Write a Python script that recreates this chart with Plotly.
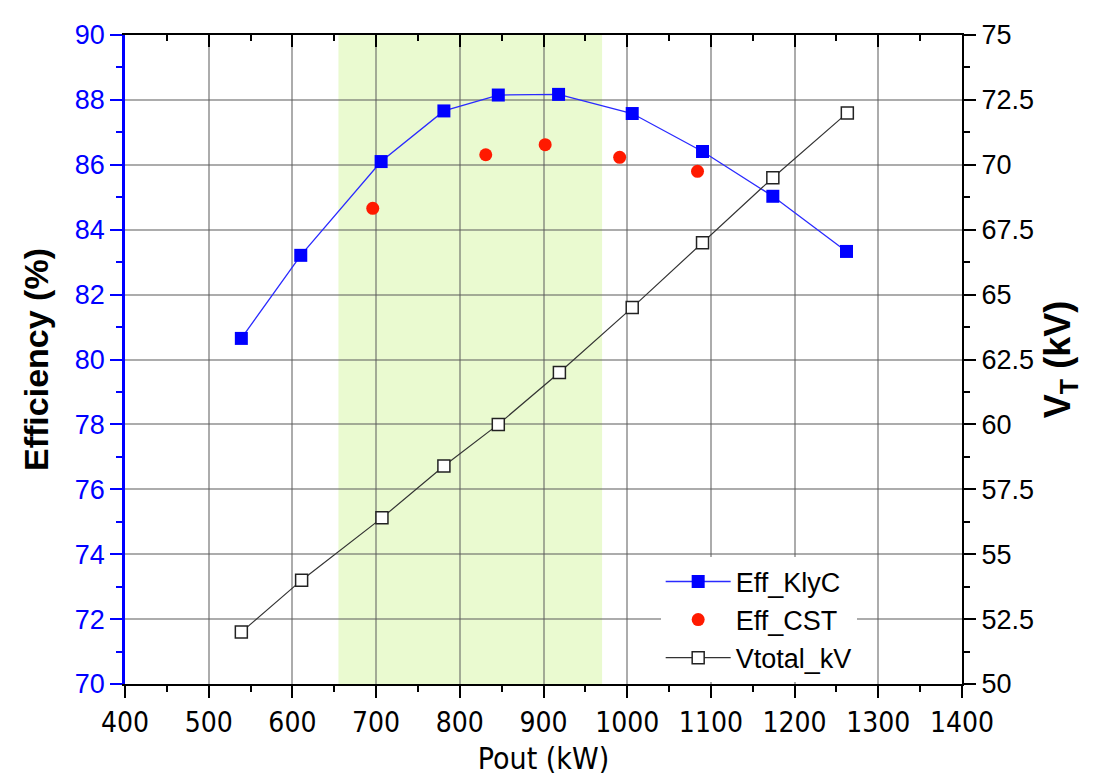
import plotly.graph_objects as go

# Data
pout_klyc = [539, 610, 706, 781, 846, 918, 1006, 1090, 1174, 1262]
eff_klyc = [80.65, 83.21, 86.10, 87.66, 88.15, 88.17, 87.58, 86.41, 85.03, 83.33]

pout_cst = [696, 831, 902, 991, 1084]
eff_cst = [84.66, 86.31, 86.62, 86.23, 85.80]

pout_v = [539, 611, 707, 781, 846, 919, 1006, 1090, 1174, 1263]
vtotal = [52.0, 54.0, 56.4, 58.4, 60.0, 62.0, 64.5, 67.0, 69.5, 72.0]

band_range = [655, 970]

FONT = "Liberation Sans, Arial, sans-serif"
NARROW = "Liberation Sans Narrow, Arial Narrow, DejaVu Sans Condensed, sans-serif"
BLUE = "#0000ff"
GRID = "rgba(90,90,90,0.5)"

fig = go.Figure()

fig.add_trace(go.Scatter(
    x=pout_klyc, y=eff_klyc, name="Eff_KlyC", mode="lines+markers",
    line=dict(color="#2a2aff", width=1.3),
    marker=dict(symbol="square", size=13, color=BLUE),
    yaxis="y"))
fig.add_trace(go.Scatter(
    x=pout_cst, y=eff_cst, name="Eff_CST", mode="markers",
    marker=dict(symbol="circle", size=13, color="#ff1a00"),
    yaxis="y"))
fig.add_trace(go.Scatter(
    x=pout_v, y=vtotal, name="Vtotal_kV", mode="lines+markers",
    line=dict(color="#333333", width=1.2),
    marker=dict(symbol="square", size=12, color="white",
                line=dict(color="#222222", width=1.5)),
    yaxis="y2"))
# dummy trace to activate the top mirror axis
fig.add_trace(go.Scatter(x=[None], y=[None], xaxis="x2", yaxis="y",
                         showlegend=False, hoverinfo="skip"))

fig.add_shape(type="rect", xref="x", yref="paper",
              x0=band_range[0], x1=band_range[1], y0=0, y1=1,
              fillcolor="#eafad0", line=dict(width=0), layer="below")

fig.update_layout(
    width=1096, height=776,
    margin=dict(l=117, r=142, t=17, b=100),
    paper_bgcolor="white", plot_bgcolor="white",
    font=dict(family=FONT, color="black"),
    xaxis=dict(
        range=[400, 1400], dtick=100, tick0=400,
        ticks="outside", ticklen=12, tickwidth=2, tickcolor="black",
        minor=dict(dtick=50, ticks="outside", ticklen=6, tickwidth=2,
                   tickcolor="black", showgrid=False),
        showline=True, linecolor="black", linewidth=2,
        showgrid=True, gridcolor=GRID, gridwidth=1.5,
        tickfont=dict(family=NARROW, size=28, color="black"),
        title=dict(text="Pout (kW)", font=dict(family=NARROW, size=30),
                   standoff=10),
        zeroline=False),
    xaxis2=dict(
        overlaying="x", side="top", range=[400, 1400], dtick=100, tick0=400,
        ticks="inside", ticklen=12, tickwidth=2, tickcolor="black",
        minor=dict(dtick=50, ticks="inside", ticklen=6, tickwidth=2,
                   tickcolor="black"),
        showline=True, linecolor="black", linewidth=2,
        showticklabels=False, showgrid=False, zeroline=False),
    yaxis=dict(
        range=[70, 90], dtick=2, tick0=70,
        ticks="outside", ticklen=12, tickwidth=2, tickcolor=BLUE,
        minor=dict(dtick=1, ticks="outside", ticklen=6, tickwidth=2,
                   tickcolor=BLUE, showgrid=False),
        showline=True, linecolor=BLUE, linewidth=2.5,
        showgrid=True, gridcolor=GRID, gridwidth=1.5,
        tickfont=dict(family=FONT, size=27, color=BLUE),
        title=dict(text="<b>Efficiency (%)</b>",
                   font=dict(family=FONT, size=34, color="black"),
                   standoff=16),
        zeroline=False),
    yaxis2=dict(
        overlaying="y", side="right", range=[50, 75], dtick=2.5, tick0=50,
        ticks="outside", ticklen=12, tickwidth=2, tickcolor="black",
        minor=dict(dtick=1.25, ticks="outside", ticklen=6, tickwidth=2,
                   tickcolor="black"),
        showline=True, linecolor="black", linewidth=2,
        showgrid=False, zeroline=False,
        tickfont=dict(family=FONT, size=27, color="black"),
        title=dict(text="<b>V<sub>T</sub> (kV)</b>",
                   font=dict(family=FONT, size=36, color="black"),
                   standoff=12)),
    legend=dict(
        x=0.64, y=0.195, xanchor="left", yanchor="top",
        bgcolor="white", borderwidth=0,
        font=dict(family=FONT, size=27, color="black"),
        itemwidth=65, tracegroupgap=0),
    showlegend=True,
)

fig.write_html("out.html")
